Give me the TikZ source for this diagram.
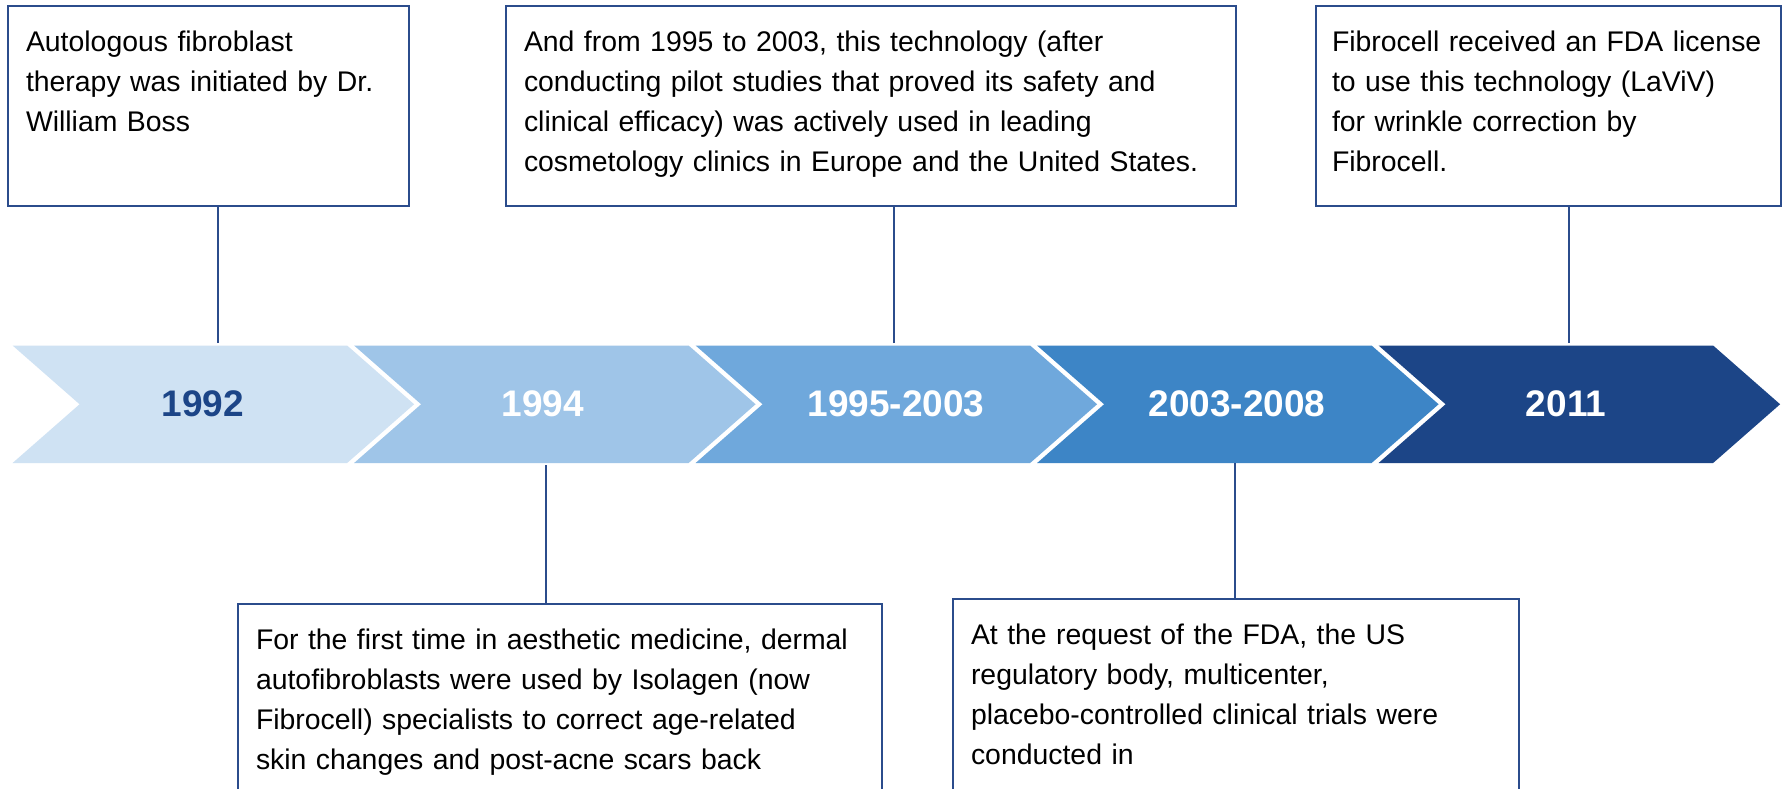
\documentclass[tikz,border=0pt]{standalone}
\usepackage{fontspec}
\setmainfont{Liberation Sans}
\usepackage{tikz}
\definecolor{lineblue}{HTML}{2B4C8C}
\definecolor{stepA}{HTML}{CFE2F3}
\definecolor{stepB}{HTML}{9FC5E8}
\definecolor{stepC}{HTML}{6FA8DC}
\definecolor{stepD}{HTML}{3D85C6}
\definecolor{stepE}{HTML}{1C4587}
\def\drawChevron#1#2{
\fill[#2] (#1,345.5) -- ++(334.5,0) -- ++(67,58.75) -- ++(-67,58.75) -- ++(-334.5,0) -- ++(67,-58.75) -- cycle;
}
\tikzset{
  infobox/.style={draw=lineblue, line width=1pt, fill=white, anchor=north west,
    inner xsep=9pt, inner ysep=0pt, text height=22.5pt, text depth=77.5pt,
    align=left, font=\fontsize{14.2}{20}\selectfont},
  year/.style={font=\fontsize{18.5}{22}\selectfont\bfseries, text=white},
  link/.style={draw=lineblue, line width=1pt}
}

\begin{document}
\begin{tikzpicture}[x=0.5pt,y=-0.5pt]
	\useasboundingbox (0,0) rectangle (1787,788);
	\fill[white] (0,0) rectangle (1787,788);
	\clip (0,0) rectangle (1787,788);
	\drawChevron{12.6}{stepA}
	\drawChevron{354.1}{stepB}
	\drawChevron{695.6}{stepC}
	\drawChevron{1037.1}{stepD}
	\drawChevron{1378.6}{stepE}
	\node[year, text=stepE] (y1) at (203,404) {1992};
	\node[year] (y2) at (543,404) {1994};
	\node[year] (y3) at (896,404) {1995-2003};
	\node[year] (y4) at (1237,404) {2003-2008};
	\node[year] (y5) at (1566,404) {2011};
	\node[infobox, text width=182.5pt] (b1) at (7,5) {Autologous fibroblast\\therapy was initiated by Dr.\\William Boss};
	\node[infobox, text width=347pt] (b2) at (505,5) {And from 1995 to 2003, this technology (after\\conducting pilot studies that proved its safety and\\clinical efficacy) was actively used in leading\\cosmetology clinics in Europe and the United States.};
	\node[infobox, inner xsep=8pt, text width=216.5pt] (b3) at (1315,5) {Fibrocell received an FDA license\\to use this technology (LaViV)\\for wrinkle correction by\\Fibrocell.};
	\node[infobox, text width=304pt] (b4) at (237,603) {For the first time in aesthetic medicine, dermal\\autofibroblasts were used by Isolagen (now\\Fibrocell) specialists to correct age-related\\skin changes and post-acne scars back};
	\node[infobox, text width=265pt] (b5) at (952,598) {At the request of the FDA, the US\\regulatory body, multicenter,\\placebo-controlled clinical trials were\\conducted in};
	\coordinate (k1) at (218,343);
	\coordinate (k2) at (546,465);
	\coordinate (k3) at (894,343);
	\coordinate (k4) at (1235,463);
	\coordinate (k5) at (1569,343);
	\draw[link] (k1) -- (k1 |- b1.south);
	\draw[link] (k2) -- (k2 |- b4.north);
	\draw[link] (k3) -- (k3 |- b2.south);
	\draw[link] (k4) -- (k4 |- b5.north);
	\draw[link] (k5) -- (k5 |- b3.south);
\end{tikzpicture}
\end{document}
